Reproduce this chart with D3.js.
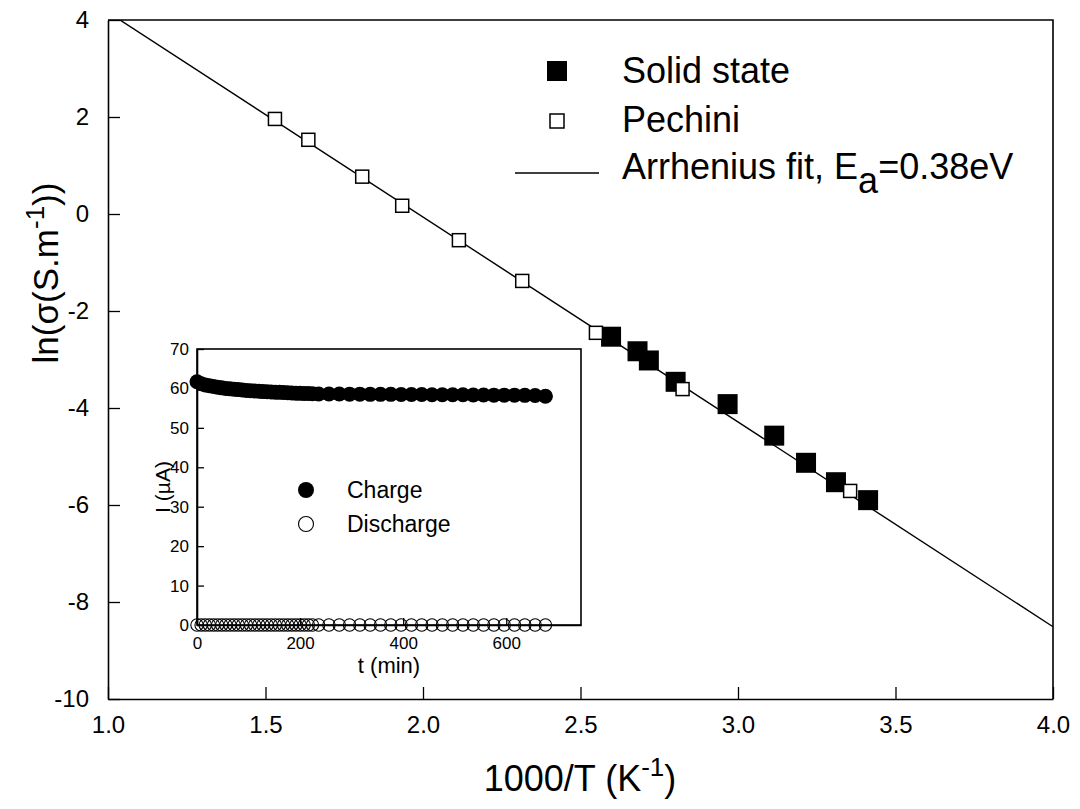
<!DOCTYPE html>
<html>
<head>
<meta charset="utf-8">
<script src="https://cdn.jsdelivr.net/npm/d3@7"></script>
<style>
  html, body { margin: 0; padding: 0; background: #fff; }
  svg text { font-family: "Liberation Sans", Arial, Helvetica, sans-serif; fill: #000; }
</style>
</head>
<body>
<svg id="chart" width="1080" height="809"></svg>
<script>
// ---------- Data ----------
const xTicks = [1.0, 1.5, 2.0, 2.5, 3.0, 3.5, 4.0];
const yTicks = [-10, -8, -6, -4, -2, 0, 2, 4];

const pechiniX = [1.530, 1.636, 1.807, 1.934, 2.114, 2.315, 2.549, 2.824, 3.356];
const pechiniY = [1.96, 1.53, 0.77, 0.17, -0.54, -1.38, -2.45, -3.61, -5.71];

const solidX = [2.597, 2.681, 2.717, 2.802, 2.967, 3.115, 3.216, 3.311, 3.413];
const solidY = [-2.53, -2.83, -3.02, -3.46, -3.92, -4.57, -5.13, -5.53, -5.90];

const fitX = [1.0, 4.0];
const fitY = [4.161, -8.51];

const legendLabels = ["Solid state", "Pechini", "Arrhenius fit, E", "a", "=0.38eV"];

// inset
const insetXTicks = [0, 200, 400, 600];
const insetYTicks = [0, 10, 20, 30, 40, 50, 60, 70];
const insetTime = [0, 8, 16, 24, 32, 40, 48, 56, 64, 72, 80, 88, 96, 104, 112, 120, 128, 136, 144, 152,
  160, 168, 176, 184, 192, 200, 208, 216, 224,
  236, 256, 276, 296, 316, 336, 356, 376, 396, 416, 436, 456, 476, 496, 516, 536, 556, 576, 596, 616, 636, 656, 676];
const chargeI = [61.7, 61.2, 60.9, 60.7, 60.5, 60.3, 60.15, 60.0, 59.9, 59.8, 59.7, 59.6, 59.5, 59.4, 59.35, 59.3, 59.2, 59.15, 59.1, 59.05,
  59.0, 58.95, 58.9, 58.85, 58.8, 58.75, 58.7, 58.7, 58.65,
  58.6, 58.6, 58.6, 58.55, 58.55, 58.5, 58.5, 58.5, 58.45, 58.45, 58.45, 58.4, 58.4, 58.4, 58.4, 58.35, 58.35, 58.3, 58.3, 58.3, 58.25, 58.2, 58.0];
const dischargeI = [0, 0, 0, 0, 0, 0, 0, 0, 0, 0, 0, 0, 0, 0, 0, 0, 0, 0, 0, 0,
  0, 0, 0, 0, 0, 0, 0, 0, 0,
  0, 0, 0, 0, 0, 0, 0, 0, 0, 0, 0, 0, 0, 0, 0, 0, 0, 0, 0, 0, 0, 0, 0];
const insetLegend = ["Charge", "Discharge"];

// ---------- Setup ----------
const svg = d3.select("#chart");
svg.append("rect").attr("width", 1080).attr("height", 809).attr("fill", "#fff");

const x = d3.scaleLinear().domain([1, 4]).range([108, 1053]);
const y = d3.scaleLinear().domain([-10, 4]).range([699, 20]);

svg.append("defs").append("clipPath").attr("id", "plotClip")
  .append("rect").attr("x", 108).attr("y", 20).attr("width", 945).attr("height", 679);

// frame (top & right)
svg.append("path")
  .attr("d", `M${x(1)},${y(4)}H${x(4)}V${y(-10)}`)
  .attr("fill", "none").attr("stroke", "#000").attr("stroke-width", 1.6);

// axes
const gx = svg.append("g").attr("transform", `translate(0,${y(-10)})`)
  .call(d3.axisBottom(x).tickValues(xTicks).tickSizeInner(-12).tickSizeOuter(0).tickPadding(17)
    .tickFormat(d3.format(".1f")));
const gy = svg.append("g").attr("transform", `translate(${x(1)},0)`)
  .call(d3.axisLeft(y).tickValues(yTicks).tickSizeInner(-12).tickSizeOuter(0).tickPadding(19)
    .tickFormat(d => String(d)));
[gx, gy].forEach(g => {
  g.select(".domain").attr("stroke-width", 1.6);
  g.selectAll(".tick line").attr("stroke-width", 1.3);
  g.selectAll(".tick text").attr("font-size", 24).attr("font-family", "Liberation Sans, Arial, sans-serif");
});

// fit line
const line = d3.line().x(d => x(d[0])).y(d => y(d[1]));
svg.append("path")
  .datum(fitX.map((v, i) => [v, fitY[i]]))
  .attr("d", line)
  .attr("clip-path", "url(#plotClip)")
  .attr("fill", "none").attr("stroke", "#000").attr("stroke-width", 1.4);

// solid state squares
const sq = 20, osq = 13;
svg.append("g").selectAll("rect")
  .data(solidX.map((v, i) => [v, solidY[i]]))
  .join("rect")
  .attr("x", d => x(d[0]) - sq / 2).attr("y", d => y(d[1]) - sq / 2)
  .attr("width", sq).attr("height", sq).attr("fill", "#000");

// pechini squares
svg.append("g").selectAll("rect")
  .data(pechiniX.map((v, i) => [v, pechiniY[i]]))
  .join("rect")
  .attr("x", d => x(d[0]) - osq / 2).attr("y", d => y(d[1]) - osq / 2)
  .attr("width", osq).attr("height", osq).attr("fill", "#fff")
  .attr("stroke", "#000").attr("stroke-width", 1.5);

// axis titles
svg.append("text").attr("x", 580).attr("y", 791).attr("text-anchor", "middle").attr("font-size", 36)
  .call(t => {
    t.append("tspan").text("1000/T (K");
    t.append("tspan").attr("font-size", 26).attr("dy", -15).text("-1");
    t.append("tspan").attr("dy", 15).text(")");
  });
svg.append("text").attr("transform", "translate(58,273) rotate(-90)").attr("text-anchor", "middle").attr("font-size", 35)
  .call(t => {
    t.append("tspan").text("ln(σ(S.m");
    t.append("tspan").attr("font-size", 26).attr("dy", -14).text("-1");
    t.append("tspan").attr("dy", 14).text("))");
  });

// main legend
const lg = svg.append("g");
lg.append("rect").attr("x", 557 - 10).attr("y", 71 - 10).attr("width", 20).attr("height", 20).attr("fill", "#000");
lg.append("rect").attr("x", 557 - 7).attr("y", 121 - 7).attr("width", 14).attr("height", 14)
  .attr("fill", "#fff").attr("stroke", "#000").attr("stroke-width", 1.5);
lg.append("line").attr("x1", 515).attr("x2", 599).attr("y1", 173).attr("y2", 173)
  .attr("stroke", "#000").attr("stroke-width", 1.4);
lg.append("text").attr("x", 622).attr("y", 83).attr("font-size", 36).text(legendLabels[0]);
lg.append("text").attr("x", 622).attr("y", 132).attr("font-size", 36).text(legendLabels[1]);
lg.append("text").attr("x", 622).attr("y", 179).attr("font-size", 36)
  .call(t => {
    t.append("tspan").text(legendLabels[2]);
    t.append("tspan").attr("dy", 14).text(legendLabels[3]);
    t.append("tspan").attr("dy", -14).text(legendLabels[4]);
  });

// ---------- Inset ----------
const ix = d3.scaleLinear().domain([0, 745]).range([197, 581]);
const iy = d3.scaleLinear().domain([0, 70]).range([625, 349]);

svg.append("rect").attr("x", 197).attr("y", 349).attr("width", 581 - 197).attr("height", 625 - 349)
  .attr("fill", "#fff").attr("stroke", "#000").attr("stroke-width", 1.6);

const igx = svg.append("g").attr("transform", `translate(0,${iy(0)})`)
  .call(d3.axisBottom(ix).tickValues(insetXTicks).tickSizeInner(-7).tickSizeOuter(0).tickPadding(12)
    .tickFormat(d => String(d)));
const igy = svg.append("g").attr("transform", `translate(${ix(0)},0)`)
  .call(d3.axisLeft(iy).tickValues(insetYTicks).tickSizeInner(-7).tickSizeOuter(0).tickPadding(8)
    .tickFormat(d => String(d)));
[igx, igy].forEach(g => {
  g.select(".domain").attr("stroke-width", 1.6);
  g.selectAll(".tick line").attr("stroke-width", 1.3);
  g.selectAll(".tick text").attr("font-size", 17).attr("font-family", "Liberation Sans, Arial, sans-serif");
});

// discharge (open circles) then charge (filled)
svg.append("g").selectAll("circle")
  .data(insetTime.map((t, i) => [t, dischargeI[i]]))
  .join("circle")
  .attr("cx", d => ix(d[0])).attr("cy", d => iy(d[1])).attr("r", 6.2)
  .attr("fill", "none").attr("stroke", "#000").attr("stroke-width", 1.1);
svg.append("g").selectAll("circle")
  .data(insetTime.map((t, i) => [t, chargeI[i]]))
  .join("circle")
  .attr("cx", d => ix(d[0])).attr("cy", d => iy(d[1])).attr("r", 7.5)
  .attr("fill", "#000");

svg.append("text").attr("x", 389).attr("y", 673).attr("text-anchor", "middle").attr("font-size", 22).text("t (min)");
svg.append("text").attr("transform", "translate(170,487) rotate(-90)").attr("text-anchor", "middle")
  .attr("font-size", 21).text("I (µA)");

// inset legend
svg.append("circle").attr("cx", 306).attr("cy", 490).attr("r", 8).attr("fill", "#000");
svg.append("circle").attr("cx", 306).attr("cy", 524).attr("r", 7.5).attr("fill", "#fff")
  .attr("stroke", "#000").attr("stroke-width", 1.1);
svg.append("text").attr("x", 347).attr("y", 498).attr("font-size", 23).text(insetLegend[0]);
svg.append("text").attr("x", 347).attr("y", 532).attr("font-size", 23).text(insetLegend[1]);
</script>
</body>
</html>
